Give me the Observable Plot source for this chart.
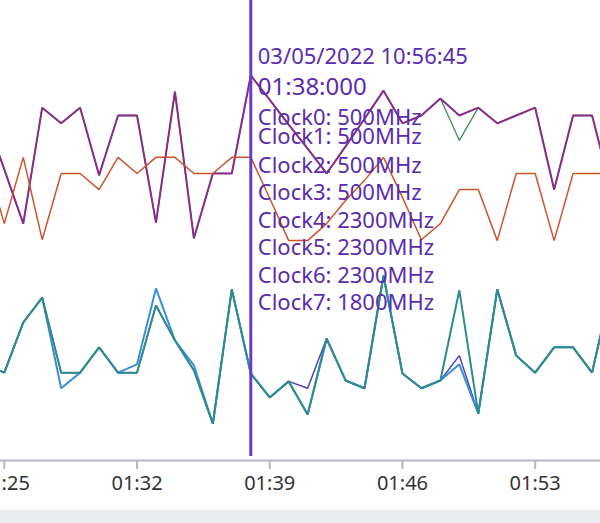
<!DOCTYPE html>
<html><head><meta charset="utf-8">
<script src="https://cdn.jsdelivr.net/npm/d3@7"></script>
<script src="https://cdn.jsdelivr.net/npm/@observablehq/plot@0.6"></script>
<style>
html,body{margin:0;padding:0;background:#fff;overflow:hidden;width:600px;height:523px}
#chart svg{display:block}
#bar{height:13px;background:#eaecf0}
</style></head><body>
<div id="chart"></div><div id="bar"></div>
<script>
// elapsed seconds (minute 01)
const seconds = [24,25,26,27,28,29,30,31,32,33,34,35,36,37,38,39,40,41,42,43,44,45,46,47,48,49,50,51,52,53,54,55,56,57];
const tickSeconds = [25,32,39,46,53];
const tickLabels = ["01:25","01:32","01:39","01:46","01:53"];

// series values (arbitrary 0-100 units)
const purpleVals = [75.0,63.3,51.5,76.7,73.3,76.7,62.0,75.0,75.0,51.7,80.2,48.3,62.4,62.4,83.7,78.4,73.0,67.8,62.4,68.3,74.3,80.4,73.3,75.0,78.7,75.0,76.7,73.3,75.0,76.7,58.9,75.0,75.0,58.9];
const greenVals  = [75.0,63.3,51.5,76.7,73.3,76.7,62.0,75.0,75.0,51.7,80.2,48.3,62.4,62.4,83.7,78.4,73.0,67.8,62.4,68.3,74.3,80.4,73.3,75.0,78.7,69.6,76.7,73.3,75.0,76.7,58.9,75.0,75.0,58.9];
const orangeVals = [65.9,51.5,65.9,48.0,62.4,62.4,58.9,65.9,62.4,65.9,65.9,62.4,62.4,65.9,65.9,57.0,47.8,47.8,51.5,56.5,60.9,65.9,57.2,48.0,51.5,58.9,58.9,47.8,62.4,62.4,47.8,62.4,62.4,62.4];
const indigoVals = [20.9,19.1,30.0,35.4,19.1,19.1,24.6,19.1,19.1,33.7,26.1,19.6,8.0,37.2,18.9,13.7,17.2,15.7,26.5,17.4,15.7,40.2,18.9,15.7,17.4,22.8,10.2,37.2,22.8,19.1,24.6,24.6,19.1,37.2];
const blueVals   = [20.9,19.1,30.0,35.4,15.7,19.1,24.6,19.1,20.9,37.4,26.1,20.7,8.0,37.2,18.9,13.7,17.2,10.0,26.5,17.4,15.7,40.2,18.9,15.7,17.4,20.9,10.2,37.2,22.8,19.1,24.6,24.6,19.1,37.2];
const tealVals   = [20.9,19.1,30.0,35.4,19.1,19.1,24.6,19.1,19.1,33.7,26.1,19.6,8.0,37.2,18.9,13.7,17.2,10.0,26.5,17.4,15.7,40.2,18.9,15.7,17.4,37.0,10.2,37.2,22.8,19.1,24.6,24.6,19.1,37.2];

const cursorSecond = 38;
const tooltipLines = ["03/05/2022 10:56:45","01:38:000","Clock0: 500MHz","Clock1: 500MHz","Clock2: 500MHz","Clock3: 500MHz","Clock4: 2300MHz","Clock5: 2300MHz","Clock6: 2300MHz","Clock7: 1800MHz"];

// styling
const seriesStyle = [
  {vals: greenVals,  stroke: "#3f8a55", w: 1.3},
  {vals: purpleVals, stroke: "#8a2c8c", w: 2},
  {vals: orangeVals, stroke: "#c9552f", w: 1.5},
  {vals: indigoVals, stroke: "#4a44b8", w: 1.5},
  {vals: blueVals,   stroke: "#3a8fd8", w: 2},
  {vals: tealVals,   stroke: "#2f8b8c", w: 2}
];
const font = "'Segoe UI', 'Noto Sans', sans-serif";
const tipBaselines = [63,94,124,143,172,199,227,254,282,309];
const tipSizes = [22,24,22,22,22,22,22,22,22,22];

const lineMarks = seriesStyle.map(s =>
  Plot.line(seconds.map((t,i)=>({t, v: s.vals[i]})), {x:"t", y:"v", stroke:s.stroke, strokeWidth:s.w, clip:true, strokeLinejoin:"miter"})
);
const tipMarks = tooltipLines.map((label,i) =>
  Plot.text([{t: cursorSecond, label}], {x:"t", text:"label", frameAnchor:"top", lineAnchor:"bottom", textAnchor:"start",
    dx:7, dy:tipBaselines[i], fill:"#5a2dae", fontSize:tipSizes[i], fontFamily:font})
);

const chart = Plot.plot({
  width: 600, height: 510,
  marginTop: 0, marginBottom: 50, marginLeft: 0, marginRight: 0,
  x: {domain: [24.8, 56.445], axis: null},
  y: {domain: [0, 100], axis: null},
  style: {background: "#fff", fontFamily: font},
  marks: [
    ...lineMarks,
    Plot.ruleY([0], {stroke:"#b4b8c4", strokeWidth:2}),
    Plot.axisX(tickSeconds, {tickSize: 9, tickPadding: 6, stroke:"#b4b8c4", strokeWidth:2, fill:"#333", fontSize:20, fontFamily:font,
      tickFormat: d => tickLabels[tickSeconds.indexOf(d)], label: null}),
    Plot.ruleX([cursorSecond], {stroke:"#6b3cc9", strokeWidth:3, insetBottom:4}),
    ...tipMarks
  ]
});
document.getElementById("chart").appendChild(chart);
</script>
</body></html>
